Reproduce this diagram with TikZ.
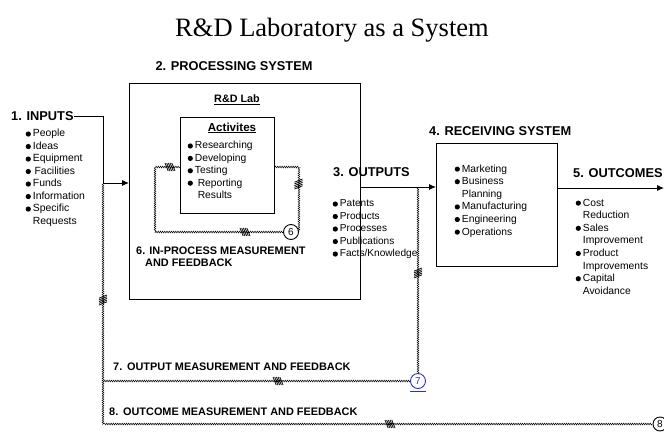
\documentclass[tikz,border=0pt]{standalone}
\usepackage{fontspec}
\setmainfont{Liberation Sans}
\newfontfamily\titlefont{Liberation Serif}
\usetikzlibrary{arrows.meta,decorations.pathmorphing,calc}

% filled round bullet for the item lists
\newcommand{\dotb}{\tikz[baseline=-2.9pt]\fill (0,0) circle (2.6pt);}
\newcommand{\blist}[1]{\begin{tabular}{@{}l@{\hspace{2pt}}l@{}}#1\end{tabular}}

\definecolor{linkblue}{HTML}{3030C8}

\tikzset{
  heading/.style={font=\bfseries\fontsize{12.8}{14}\selectfont, inner sep=0pt},
  fbtext/.style={font=\bfseries\fontsize{10.9}{12.3}\selectfont, inner sep=0pt, align=left},
  items/.style={font=\fontsize{10.4}{12.5}\selectfont, inner sep=0pt, anchor=north west},
  sysbox/.style={draw, line width=1pt, inner sep=0pt, anchor=north west},
  arr/.style={line width=0.9pt, -{Latex[length=7pt,width=6pt]}},
  fb/.style={line width=0.45pt, decorate,
             decoration={zigzag, segment length=2.2pt, amplitude=0.9pt}},
  numcirc/.style={draw, circle, line width=0.9pt, minimum size=15pt, inner sep=0pt,
                  font=\fontsize{10}{12}\selectfont},
  hatch/.pic={\foreach \i in {-2,...,2}
                \draw[line width=0.8pt] ({\i*1.7-1.6},-4) -- ({\i*1.7+1.6},4);}
}

\begin{document}
\begin{tikzpicture}[x=1pt, y=-1pt]
\useasboundingbox (0,0) rectangle (664,442);

% title
\node[font=\titlefont\fontsize{26.5}{30}\selectfont, inner sep=0pt] (title) at (332,30) {R\&D Laboratory as a System};

% system boxes
\node[sysbox, minimum width=231pt, minimum height=216pt] (proc) at (129,83) {};
\node[sysbox, minimum width=94pt, minimum height=96pt] (act) at (180,117) {};
\node[sysbox, minimum width=121pt, minimum height=123pt] (recv) at (436,143) {};

% headings
\node[heading] (hproc) at (234,66) {2. PROCESSING SYSTEM};
\node[heading, anchor=west] (hin) at (11,116) {1. INPUTS};
\node[heading, anchor=west] (hout) at (333,172) {3. OUTPUTS};
\node[heading, anchor=west] (hrecv) at (429,131) {4. RECEIVING SYSTEM};
\node[heading, anchor=west] (houtc) at (573,173) {5. OUTCOMES};

\node[font=\bfseries\fontsize{10.8}{12}\selectfont, inner sep=0pt] (rdlab) at (237,100) {\underline{R\&D Lab}};
\node[font=\bfseries\fontsize{11.6}{13}\selectfont, inner sep=0pt] (acttitle) at (232,128) {\underline{Activites}};

% item lists
\node[items] (inlist) at (25.5,128) {\blist{
  \dotb & People\\ \dotb & Ideas\\ \dotb & Equipment\\ \dotb & \,Facilities\\
  \dotb & Funds\\ \dotb & Information\\ \dotb & Specific\\ & Requests}};
\node[items, font=\fontsize{10.3}{12.4}\selectfont] (actlist) at (187.5,140) {\blist{
  \dotb & Researching\\ \dotb & Developing\\ \dotb & Testing\\
  \dotb & \;Reporting\\ & \;Results}};
\node[items, font=\fontsize{10.1}{12.5}\selectfont] (outlist) at (332.5,198) {\blist{
  \dotb & Patents\\ \dotb & Products\\ \dotb & Processes\\ \dotb & Publications\\
  \dotb & Facts/Knowledge}};
\node[items, font=\fontsize{10.3}{12.6}\selectfont] (recvlist) at (454.5,163) {\blist{
  \dotb & Marketing\\ \dotb & Business\\ & Planning\\ \dotb & Manufacturing\\
  \dotb & Engineering\\ \dotb & Operations}};
\node[items, font=\fontsize{10.3}{12.6}\selectfont] (outclist) at (575.5,197) {\blist{
  \dotb & Cost\\ & Reduction\\ \dotb & Sales\\ & Improvement\\
  \dotb & Product\\ & Improvements\\ \dotb & Capital\\ & Avoidance}};

% feedback labels
\node[fbtext, anchor=north west] (l6) at (136,247) {6. IN-PROCESS MEASUREMENT\\[-0.6pt]\hspace*{9pt}AND FEEDBACK};
\node[fbtext, anchor=west] (l7) at (113,367) {7.\ \,OUTPUT MEASUREMENT AND FEEDBACK};
\node[fbtext, anchor=west] (l8) at (109,412) {8.\ \,OUTCOME MEASUREMENT AND FEEDBACK};

% measurement points
\node[numcirc] (c6) at (291,232) {6};
\node[numcirc, draw=linkblue, text=linkblue] (c7) at (418,381) {7};
\node[numcirc, minimum size=14pt] (c8) at (660,424) {8};
\draw[linkblue, line width=0.8pt] ($(c7.south)+(-8,2)$) -- ++(16,0);

% main flow
\coordinate (inbend) at (103,183);
\coordinate (o1) at (360,187);
\coordinate (o2) at (557,188);
\coordinate (rightedge) at (664,188);
\draw[line width=0.9pt] (hin.east) -| (inbend);
\draw[arr] (inbend) -- (inbend -| proc.west);
\draw[arr] (o1) -- (o1 -| recv.west);
\draw[arr] (o2) -- (rightedge);

% feedback loops
\draw[fb] (act.east |- 0,167) -| (c6.east);
\draw[fb] (c6.west) -- (155,232) |- (act.west |- 0,167);
\draw[fb] (c7 |- o1) -- (c7.north);
\draw[fb] (c7.west) -- (c7.west -| inbend);
\draw[fb] (inbend) -- (inbend |- c8.west) -- (c8.west);

% direction marks on the feedback lines
\path (170,167) pic {hatch};
\path (298.5,184) pic[rotate=90] {hatch};
\path (245,232) pic {hatch};
\path (418,273) pic[rotate=90] {hatch};
\path (278,381) pic {hatch};
\path (103,300) pic[rotate=90] {hatch};
\path (390,424) pic {hatch};
\end{tikzpicture}
\end{document}
